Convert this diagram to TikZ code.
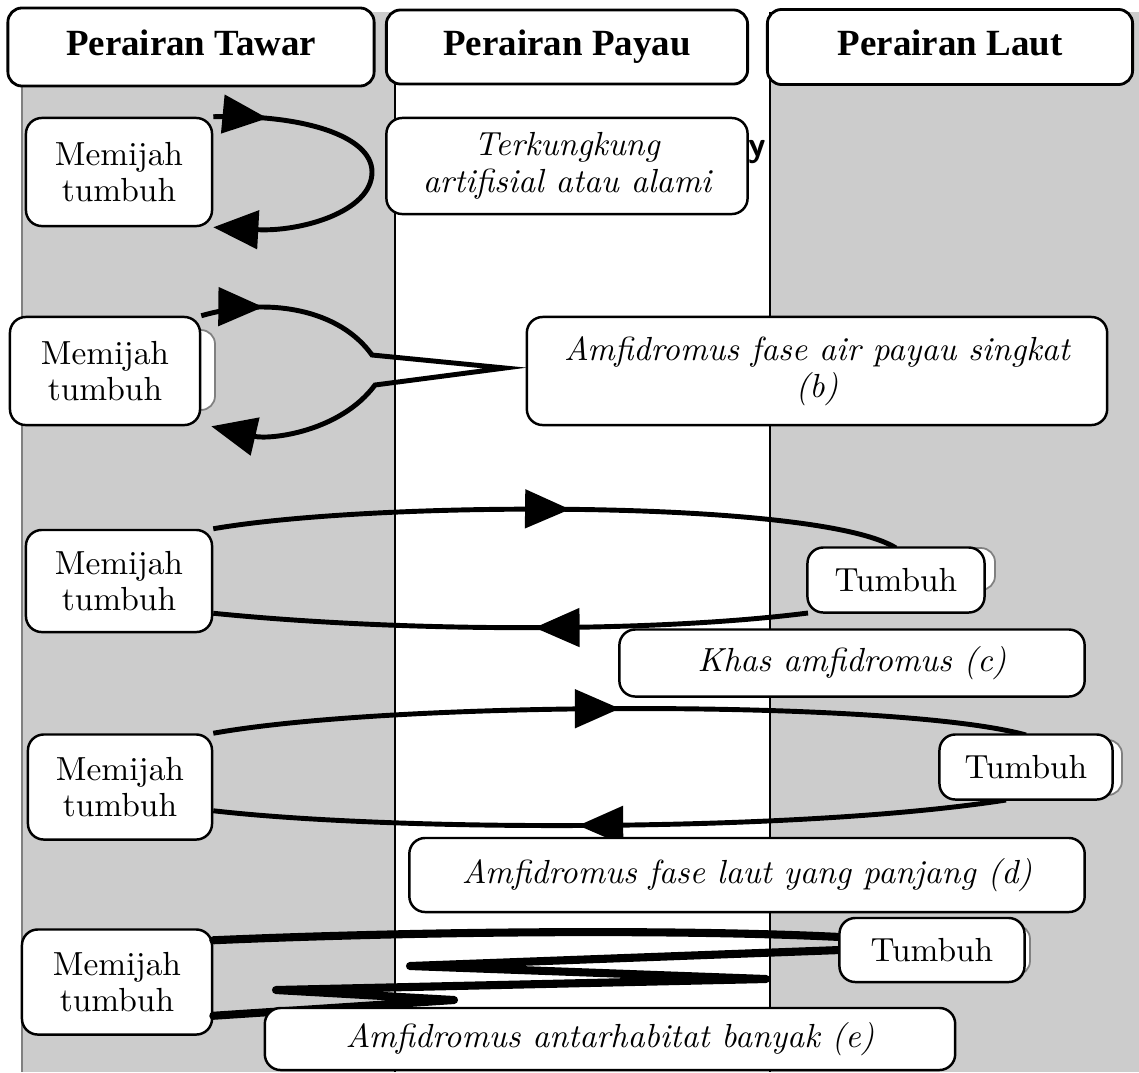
\documentclass[tikz,border=0pt]{standalone}
\usepackage{fontspec}
\newfontfamily\headfont{Liberation Serif}
\usetikzlibrary{arrows.meta,decorations.markings}
\definecolor{abu}{RGB}{204,204,204}
\tikzset{
    HD/.style ={rectangle,rounded corners=4pt,draw,line width=0.8pt,fill=white,text height=1.6ex,text depth=0.45ex,font=\headfont\bfseries\fontsize{10.5}{12}\selectfont},
    BX/.style ={rectangle,rounded corners=4.5pt,draw,line width=0.7pt,fill=white,align=center,font=\fontsize{9.5}{10}\selectfont},
    IT/.style ={BX,font=\itshape\fontsize{9.5}{10.5}\selectfont},
    GH/.style ={rounded corners=4pt,draw=gray,fill=white,line width=0.5pt},
    LP/.style ={line width=1.4pt},
    ZZ/.style ={line width=2.3pt,line join=round,line cap=round},
    AR/.style ={postaction={decorate,decoration={markings,mark=at position #1 with {\arrow{Triangle[length=4.5mm,width=3.8mm]}}}}},
    AE/.style ={-{Triangle[length=4.5mm,width=3.8mm]}}}

\begin{document}
\begin{tikzpicture}[x=0.01cm,y=-0.01cm]
        \useasboundingbox (0,0) rectangle (1139,1072);
        % kolom habitat
        \fill[abu] (22,12) rectangle (395,1072);
        \fill[abu] (770,12) rectangle (1139,1072);
        \draw[gray] (22,12) -- (22,1072);
        \draw[line width=0.6pt] (395,12) -- (395,1072);
        \draw[line width=0.6pt] (770,12) -- (770,1072);
        \node[font=\sffamily\bfseries\fontsize{10}{12}\selectfont] (Y) at (757,152){y};
        % kotak
        \node[HD,minimum width=3.66cm,minimum height=0.78cm] (H1) at(191,47){Perairan Tawar};
        \node[HD,minimum width=3.61cm,minimum height=0.74cm] (H2) at(567,47){Perairan Payau};
        \node[HD,minimum width=3.65cm,minimum height=0.75cm] (H3) at(950,47){Perairan Laut};
        \node[BX,minimum width=1.86cm,minimum height=1.08cm] (M1) at(119,172){Memijah\\tumbuh};
        \node[IT,minimum width=3.61cm,minimum height=0.96cm] (K1) at(567,166){Terkungkung\\artifisial atau alami};
        \draw[GH] (30,330) rectangle (215,410);
        \node[BX,minimum width=1.90cm,minimum height=1.08cm] (M2) at(105,371){Memijah\\tumbuh};
        \node[IT,minimum width=5.80cm,minimum height=1.08cm] (K2) at(817,371){Amfidromus fase air payau singkat\\(b)};
        \node[BX,minimum width=1.86cm,minimum height=1.02cm] (M3) at(119,581){Memijah\\tumbuh};
        \node[BX,minimum width=1.84cm,minimum height=1.05cm] (M4) at(120,787){Memijah\\tumbuh};
        \node[BX,minimum width=1.90cm,minimum height=1.05cm] (M5) at(117,982){Memijah\\tumbuh};
        % siklus
        \draw[LP,AR=0.15,AE] (M1.north east) .. controls (300,114) and (372,135) .. (372,172)
            .. controls (372,212) and (300,232) .. (M1.south east);
        \draw[LP,AR=0.1,AE] (M2.north east) .. controls (270,296) and (340,310) .. (372,355) -- (505,368)
            -- (375,385) .. controls (340,432) and (270,440) .. ([xshift=1mm]M2.south east);
        \draw[LP,AR=0.52] (M3.north east) .. controls (380,500) and (820,500) .. (896,548);
        \draw[LP,AR=0.46] (808,613) .. controls (650,633) and (400,632) .. ([yshift=2mm]M3.south east);
        \draw[LP,AR=0.5] (M4.north east) .. controls (400,700) and (900,700) .. (1026,735);
        \draw[LP,AR=0.54] (1006,800) .. controls (800,832) and (400,832) .. ([yshift=3mm]M4.south east);
        \draw[ZZ] ([yshift=-1.2mm]M5.north east) .. controls (450,930) and (700,930) .. (840,937);
        \draw[ZZ] (840,950) -- (410,966) -- (766,979) -- (276,990) -- (454,1000) -- ([yshift=2mm]M5.south east);
        % tumbuh dan keterangan
        \draw[GH] (830,548) rectangle (995,590);
        \node[BX,minimum width=1.77cm,minimum height=0.65cm] (T3) at(896,580){Tumbuh};
        \node[IT,minimum width=4.65cm,minimum height=0.67cm] (K3) at(852,663){Khas amfidromus (c)};
        \draw[GH] (960,740) rectangle (1122,795);
        \node[BX,minimum width=1.73cm,minimum height=0.65cm] (T4) at(1026,767){Tumbuh};
        \node[IT,minimum width=6.75cm,minimum height=0.74cm] (K4) at(747,875){Amfidromus fase laut yang panjang (d)};
        \draw[GH] (860,925) rectangle (1030,975);
        \node[BX,minimum width=1.85cm,minimum height=0.64cm] (T5) at(932,950){Tumbuh};
        \node[IT,minimum width=6.90cm,minimum height=0.62cm] (K5) at(610,1039){Amfidromus antarhabitat banyak (e)};
    \end{tikzpicture}
\end{document}
